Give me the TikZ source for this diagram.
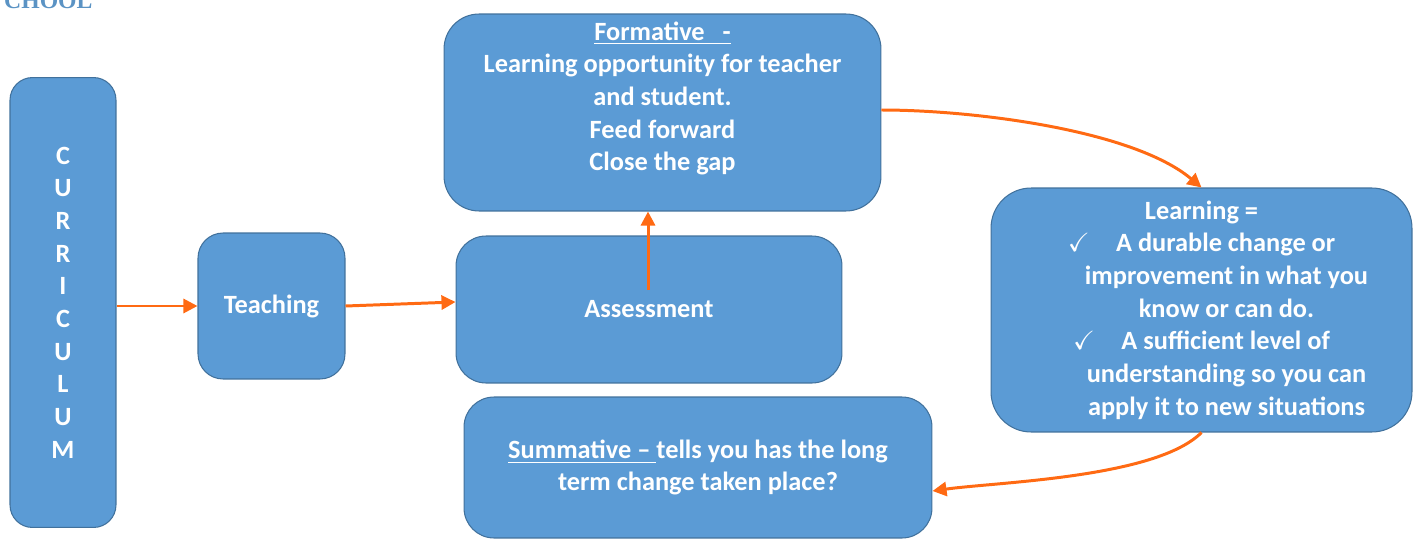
\documentclass[tikz,border=0pt]{standalone}
\usepackage{amssymb}
\usepackage{fontspec}
\setmainfont{Carlito}
\newfontfamily\headfont{Liberation Serif}
\usetikzlibrary{arrows.meta}
\definecolor{boxblue}{HTML}{5B9BD5}
\definecolor{boxline}{HTML}{41719C}
\definecolor{floworange}{HTML}{FF6A13}
\definecolor{headblue}{HTML}{5B93C4}
\begin{document}
\begin{tikzpicture}[x=0.02cm,y=-0.02cm,
  box/.style={draw=boxline,line width=0.6pt,fill=boxblue,rounded corners=0.6cm,text=white,
    font=\bfseries\fontsize{15}{18.6}\selectfont,align=center,inner sep=0pt},
  flow/.style={->,>={Triangle[length=8pt,width=8pt]},draw=floworange,line width=1.7pt}]
  \useasboundingbox (0,0) rectangle (1413,541);
  \node[anchor=base west,text=headblue,font=\headfont\bfseries\fontsize{13.5}{13.5}\selectfont] (school) at (-2,9) {CHOOL};
  % boxes
  \node[box,minimum width=2.12cm,minimum height=9cm,rounded corners=0.45cm] (curr) at (63,302.5) {C\\U\\R\\R\\I\\C\\U\\L\\U\\M};
  \node[box,minimum width=2.94cm,minimum height=2.92cm,rounded corners=0.5cm] (teach) at (271.5,306) {Teaching};
  \node[box,minimum width=7.72cm,minimum height=2.94cm] (assess) at (649,309.5) {Assessment};
  \node[box,minimum width=8.74cm,minimum height=3.94cm,rounded corners=0.7cm] (form) at (662.5,112.5) {\underline{Formative\ \ \ -}\\Learning opportunity for teacher\\and student.\\Feed forward\\Close the gap\\~};
  \node[box,minimum width=8.42cm,minimum height=4.88cm,rounded corners=0.8cm] (learn) at (1201.5,310) {Learning =\\$\checkmark$\quad A durable change or\\\hspace*{1cm}improvement in what you\\\hspace*{1cm}know or can do.\\$\checkmark$\quad A sufficient level of\\\hspace*{1cm}understanding so you can\\\hspace*{1cm}apply it to new situations};
  \node[box,minimum width=9.36cm,minimum height=2.82cm] (summ) at (698,467.5) {\underline{Summative –\ }tells you has the long\\term change taken place?};
  % arrows
  \coordinate (up) at (648,290);
  \draw[flow] (curr.east |- teach.west) -- (teach.west);
  \draw[flow] (teach.east) -- ([yshift=0.15cm]assess.west);
  \draw[flow] (up) -- (up |- form.south);
  \draw[flow] ([yshift=0.05cm]form.east) to[out=0,in=140,looseness=0.7] (learn.north);
  \draw[flow] (learn.south) to[out=-135,in=8,looseness=0.6] ([yshift=-0.47cm]summ.east);
\end{tikzpicture}
\end{document}
